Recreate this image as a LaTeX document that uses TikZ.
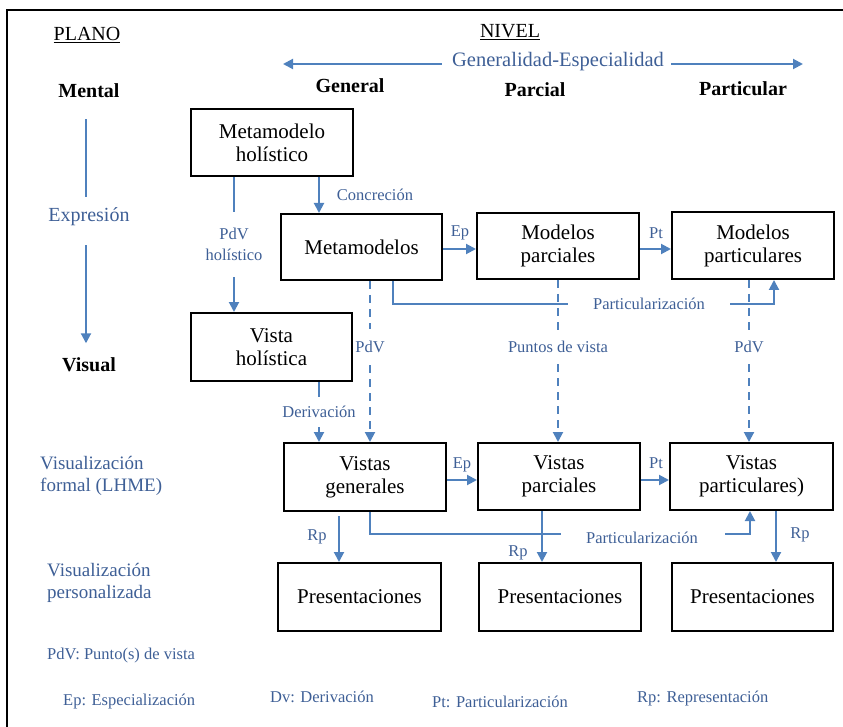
\documentclass[tikz,border=0pt]{standalone}
\usepackage{fontspec}
\setmainfont{Liberation Serif}
\usetikzlibrary{arrows.meta}
\definecolor{lineblue}{RGB}{79,129,189}
\definecolor{textblue}{RGB}{62,95,150}
\tikzset{
  box/.style={draw=black, line width=2pt, minimum width=162pt, minimum height=67pt,
    align=center, inner sep=2pt, font=\fontsize{21}{23}\selectfont},
  conn/.style={draw=lineblue, line width=2pt},
  arr/.style={conn, -{Triangle[width=10pt,length=10pt]}},
  dconn/.style={arr, dash pattern=on 8pt off 6pt},
  lbl/.style={text=textblue, font=\fontsize{16.5}{21}\selectfont, inner sep=1pt, align=center},
  gap/.style={lbl, fill=white, inner xsep=2pt},
  head/.style={font=\fontsize{20}{22}\selectfont\bfseries, inner sep=0pt},
  plain/.style={font=\fontsize{20}{22}\selectfont, inner sep=0pt},
  side/.style={text=textblue, font=\fontsize{19}{22}\selectfont, align=left, inner sep=0pt, anchor=west},
  legend/.style={text=textblue, font=\fontsize{16.5}{19}\selectfont, inner sep=0pt, anchor=west},
}
\begin{document}
\begin{tikzpicture}[x=1pt,y=-1pt]
\useasboundingbox (0,0) rectangle (843,727);

% frame
\draw[line width=2.2pt] (7,727) -- (7,10) -- (843,10);

% headings
\node[plain] (plano) at (87,35) {\underline{PLANO}};
\node[plain] (nivel) at (510,32) {\underline{NIVEL}};
\node[text=textblue, font=\fontsize{20.5}{22}\selectfont, inner sep=0pt] (ge) at (558,62) {Generalidad-Especialidad};
\coordinate (gl) at (283,64);
\coordinate (gr) at (803,64);
\draw[arr] (ge.west) ++(-10,2) -- (gl);
\draw[arr] (ge.east) ++(7,2) -- (gr);

\node[head] (hment) at (89,91) {Mental};
\node[head] (hgen) at (350,86) {General};
\node[head] (hpar) at (535,90) {Parcial};
\node[head] (hpart) at (743,89) {Particular};

% left column
\node[text=textblue, font=\fontsize{20}{22}\selectfont, inner sep=0pt] (exp) at (89,217) {Expresión};
\node[head] (vis) at (89,365) {Visual};
\draw[conn] ([xshift=-3pt]hment.south) ++(0,21) -- ++(0,78);
\draw[arr] ([xshift=-3pt]exp.south) ++(0,19) -- ++(0,98);
\node[side] (vf) at (40,476) {Visualización\\formal (LHME)};
\node[side] (vpz) at (47,583) {Visualización\\personalizada};

% boxes
\node[box] (mh) at (272,142.5) {Metamodelo\\holístico};
\node[box, minimum width=161pt, minimum height=66pt] (mm) at (361.5,247) {Metamodelos};
\node[box, minimum width=161pt, minimum height=68pt] (vh) at (271.5,347) {Vista\\holística};
\node[box, minimum height=66pt] (mp) at (558,246) {Modelos\\parciales};
\node[box] (mpt) at (753,245.5) {Modelos\\particulares};
\node[box, minimum height=68pt] (vg) at (365,477) {Vistas\\generales};
\node[box] (vp) at (559,476.5) {Vistas\\parciales};
\node[box, minimum width=163pt] (vpt) at (751.5,476.5) {Vistas\\particulares)};
\node[box, minimum width=163pt, minimum height=68pt] (p1) at (359.5,597) {Presentaciones};
\node[box, minimum height=68pt] (p2) at (560,597) {Presentaciones};
\node[box, minimum width=161pt, minimum height=68pt] (p3) at (752.5,597) {Presentaciones};

% holistic branch
\draw[arr] (mh.south west) ++(129,0) coordinate (cc) -- (cc |- mm.north);
\node[lbl] (lconc) at (375,195) {Concreción};
\draw[arr] (mh.south west) ++(44,0) coordinate (cp) -- node[gap, inner ysep=16pt] (lpdvh) {PdV\\holístico} (cp |- vh.north);
\draw[arr] (vh.south west) ++(129,0) coordinate (cd) -- node[gap, inner ysep=9pt] (lder) {Derivación} (cd |- vg.north);

% viewpoints (dashed)
\draw[dconn] (mm.south west) ++(90,0) coordinate (cv1) -- node[gap, pos=0.41, inner ysep=12pt] (lpdv1) {PdV} (cv1 |- vg.north);
\draw[dconn] (mp.south) coordinate (cv2) -- node[gap, pos=0.41, inner ysep=10pt] (lpv) {Puntos de vista} (cv2 |- vp.north);
\draw[dconn] (mpt.south west) ++(78,0) coordinate (cv3) -- node[gap, pos=0.41, inner ysep=10pt] (lpdv2) {PdV} (cv3 |- vpt.north);

% specialization / particularization, model row
\draw[arr] (mm.east) ++(0,2) coordinate (ce1) -- (ce1 -| mp.west);
\node[lbl] (lep1) at (460,233) {Ep};
\draw[arr] (mp.east) ++(0,3) coordinate (ct1) -- (ct1 -| mpt.west);
\node[lbl] (lpt1) at (656,233) {Pt};
\coordinate (pa) at (568,304);
\coordinate (pb) at (730,304);
\draw[conn] (mm.south west) ++(113,0) |- (pa);
\node[lbl] (lpart1) at (649,304) {Particularización};
\draw[arr] (pb) -| ([xshift=103pt]mpt.south west);

% specialization / particularization, view row
\draw[arr] (vg.east) ++(0,3) coordinate (ce2) -- (ce2 -| vp.west);
\node[lbl] (lep2) at (462,465) {Ep};
\draw[arr] (vp.east) ++(0,3.5) coordinate (ct2) -- (ct2 -| vpt.west);
\node[lbl] (lpt2) at (656,463) {Pt};
\coordinate (pc) at (561,534);
\coordinate (pd) at (725,534);
\draw[conn] (vg.south west) ++(87,0) |- (pc);
\node[lbl] (lpart2) at (642,538) {Particularización};
\draw[arr] (pd) -| ([xshift=81pt]vpt.south west);

% representations
\draw[arr] (vg.south west) ++(56,4) coordinate (cr1) -- (cr1 |- p1.north);
\node[lbl] (lrp1) at (317,537) {Rp};
\draw[arr] (vp.south west) ++(65,0) coordinate (cr2) -- (cr2 |- p2.north);
\node[lbl] (lrp2) at (518,553) {Rp};
\draw[arr] (vpt.south west) ++(107,0) coordinate (cr3) -- (cr3 |- p3.north);
\node[lbl] (lrp3) at (800,535) {Rp};

% legend
\node[legend] (lg1) at (47,656) {PdV: Punto(s) de vista};
\node[legend] (lg2) at (63,702) {Ep: Especialización};
\node[legend] (lg3) at (270,697) {Dv: Derivación};
\node[legend] (lg4) at (432,702) {Pt: Particularización};
\node[legend] (lg5) at (637,699) {Rp: Representación};
\end{tikzpicture}
\end{document}
